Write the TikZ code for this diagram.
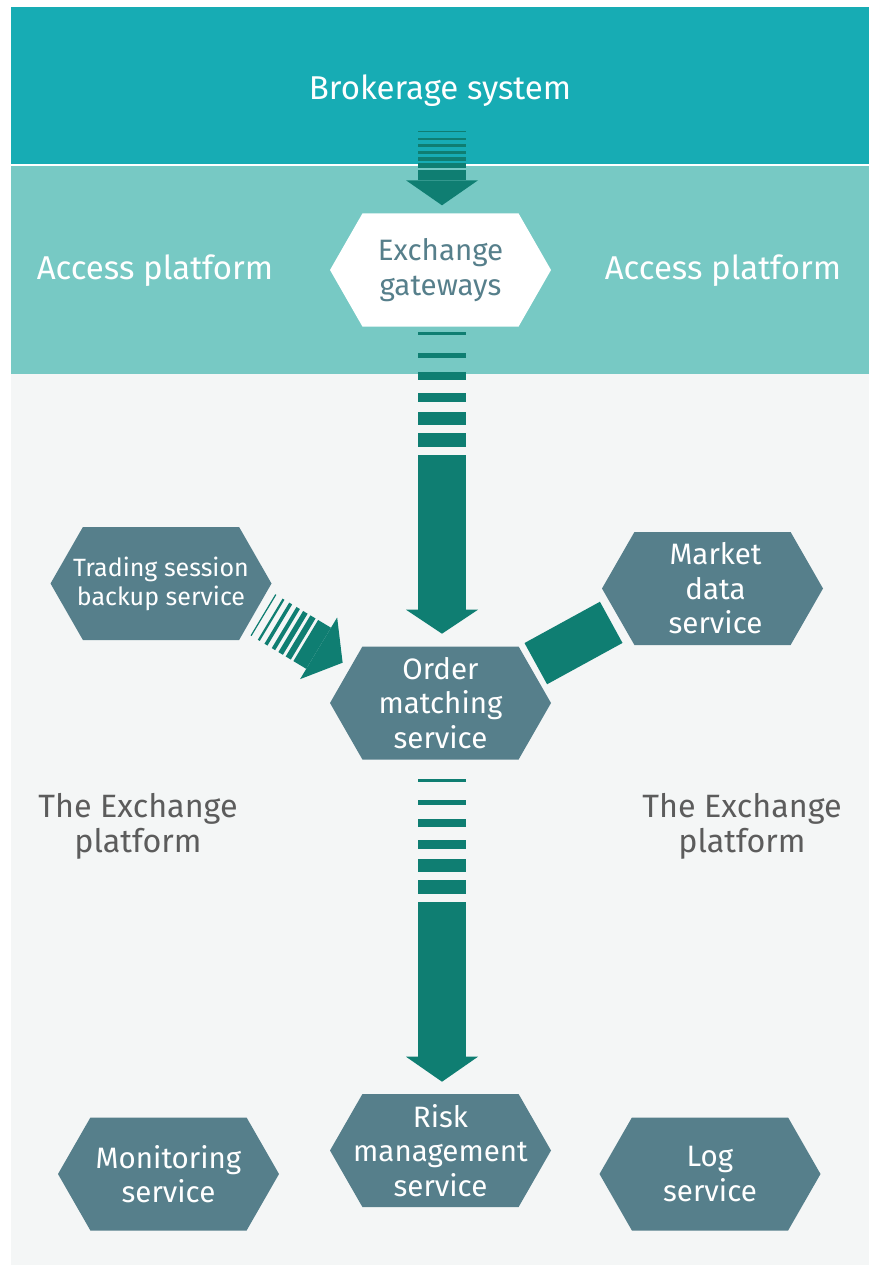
\documentclass[tikz,border=0pt]{standalone}
\usepackage{fontspec}
\setmainfont{Fira Sans}
\usetikzlibrary{calc}

\definecolor{topband}{HTML}{17ACB4}
\definecolor{accessband}{HTML}{77C9C4}
\definecolor{platformbg}{HTML}{F4F6F6}
\definecolor{hexfill}{HTML}{567F8B}
\definecolor{arrowteal}{HTML}{0F7E72}
\definecolor{labelgray}{HTML}{5C5C5C}

\tikzset{
  hexa/.style={minimum width=221pt, minimum height=113pt, inner sep=0pt,
    align=center, text=white, font=\fontsize{29.5}{34.5}\selectfont,
    path picture={\fill[#1] (path picture bounding box.west)
      -- ([xshift=32.4pt]path picture bounding box.north west)
      -- ([xshift=-32.4pt]path picture bounding box.north east)
      -- (path picture bounding box.east)
      -- ([xshift=-32.4pt]path picture bounding box.south east)
      -- ([xshift=32.4pt]path picture bounding box.south west) -- cycle;}},
  hexa/.default=hexfill,
  bandlabel/.style={text=white, inner sep=0pt, font=\fontsize{33}{35}\selectfont},
  platlabel/.style={text=labelgray, inner sep=0pt, align=center, font=\fontsize{32.3}{35}\selectfont},
}

% striped arrow pointing down: #1 stripes, #2 body, #3 head
\newcommand{\stripearrow}[3]{
  \foreach \a/\b in {0/.025, .17/.215, .325/.395, .495/.575, .65/.755, .82/.94}
    \fill[arrowteal] (-24,\a*#1) rectangle (24,\b*#1);
  \fill[arrowteal] (-24,#1) rectangle (24,#1+#2);
  \fill[arrowteal] (-36,#1+#2) -- (36,#1+#2) -- (0,#1+#2+#3) -- cycle;
}

\begin{document}
\begin{tikzpicture}[x=1pt, y=-1pt]
  \useasboundingbox (0,0) rectangle (869,1265);
  \fill[topband] (11,7) rectangle (869,164);
  \fill[accessband] (11,166) rectangle (869,374);
  \fill[platformbg] (11,374) rectangle (869,1265);

  \node[bandlabel] (brk) at (440,91) {Brokerage system};
  \node[bandlabel] (apl) at (155,271) {Access platform};
  \node[bandlabel] (apr) at (723,271) {Access platform};
  \node[platlabel] (epl) at (138,826.5) {The Exchange\\platform};
  \node[platlabel] (epr) at (742,826.5) {The Exchange\\platform};

  \node[hexa=white, text=hexfill] (gw) at (440.5,270) {Exchange\\[1pt]gateways};
  \node[hexa, font=\fontsize{25}{29}\selectfont] (tsb) at (161,583.5) {Trading session\\backup service};
  \node[hexa] (md) at (712.5,588.5) {\hspace*{6pt}Market\\\hspace*{6pt}data\\\hspace*{6pt}service};
  \node[hexa] (om) at (440.5,703) {Order\\matching\\service};
  \node[hexa] (mon) at (168.5,1174) {Monitoring\\service};
  \node[hexa] (risk) at (440.5,1150.5) {Risk\\management\\service};
  \node[hexa] (log) at (710,1174) {Log\\service};

  \begin{scope}[shift={($(gw.north)+(1.5,-82)$)}]
    \stripearrow{39}{10}{25}
  \end{scope}
  \begin{scope}[shift={($(gw.south)+(1.5,5)$)}]
    \stripearrow{123}{155}{24}
  \end{scope}
  \begin{scope}[shift={($(om.south)+(1.5,19)$)}]
    \stripearrow{123}{155}{25}
  \end{scope}
  \begin{scope}[shift={(262.9,614.8)}, rotate=59]
    \stripearrow{50}{15}{28}
  \end{scope}
  % link to market data
  \begin{scope}[shift={(573.5,643)}, rotate=28.7]
    \fill[arrowteal] (-43,-23.5) rectangle (43,23.5);
  \end{scope}
\end{tikzpicture}
\end{document}
